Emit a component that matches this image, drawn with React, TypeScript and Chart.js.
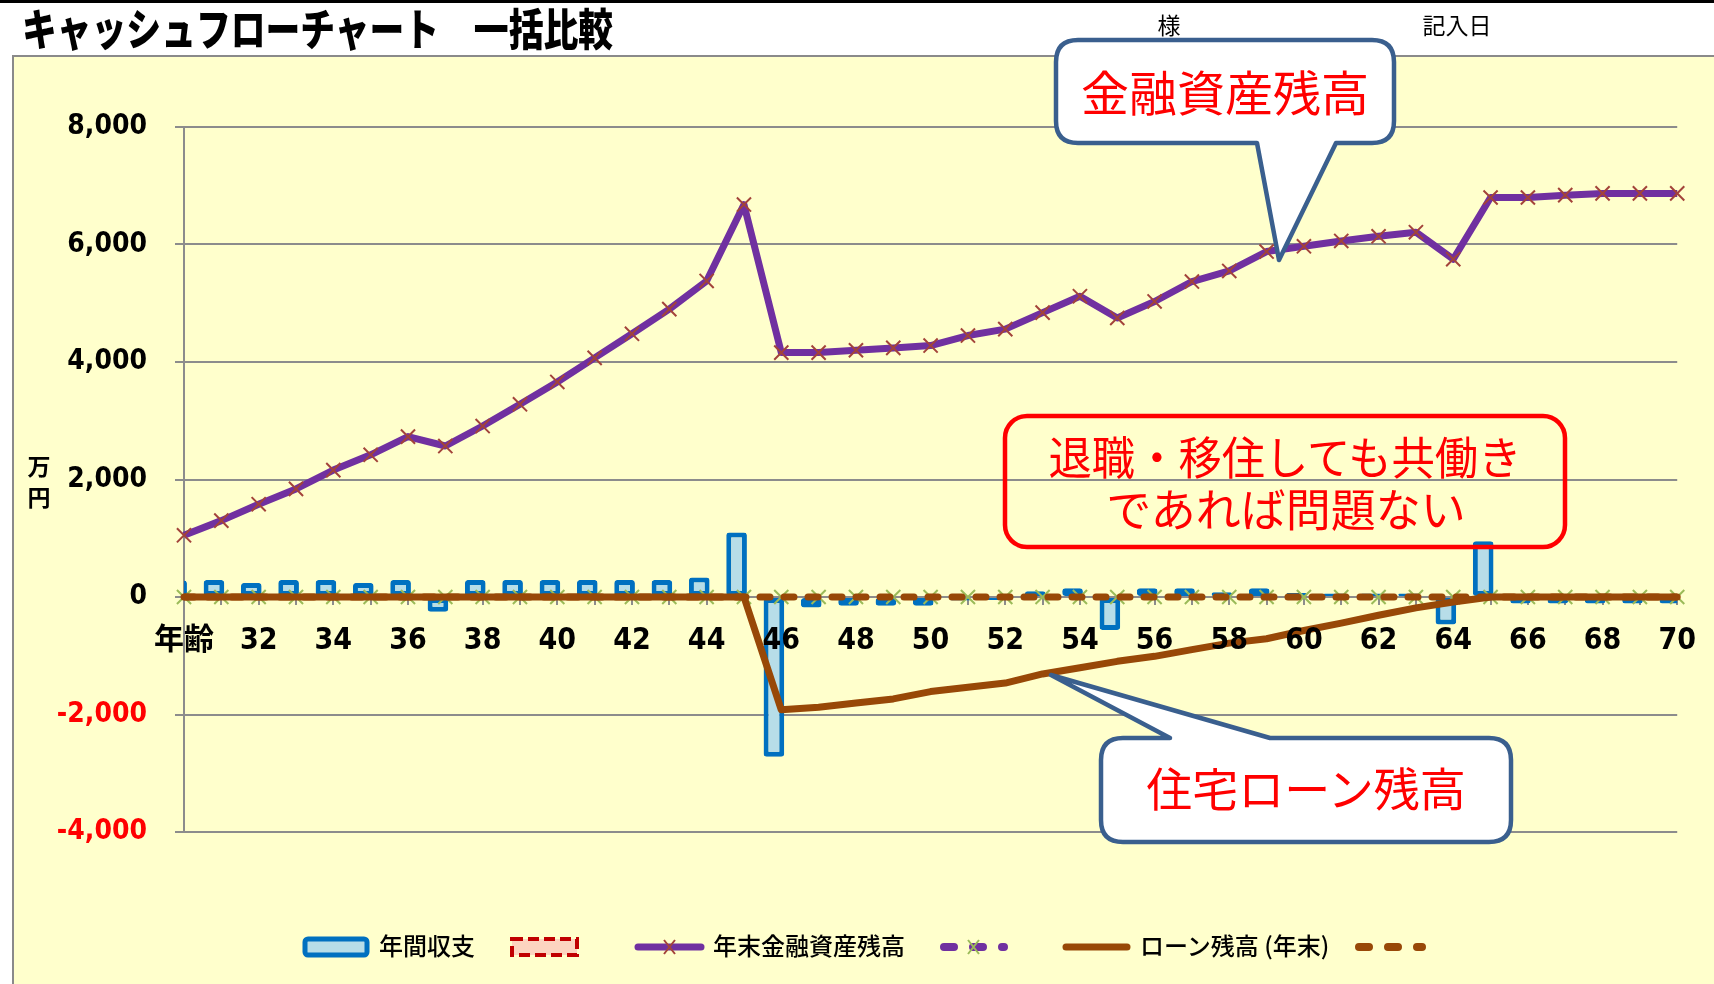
import React, { useEffect, useRef } from "react";
import { Chart, registerables } from "chart.js";

Chart.register(...registerables);

// ---- data ----
const ages = ["30","31","32","33","34","35","36","37","38","39","40","41","42","43","44","45","46","47","48","49","50","51","52","53","54","55","56","57","58","59","60","61","62","63","64","65","66","67","68","69","70"];
const tickLabels = ["年齢","","32","","34","","36","","38","","40","","42","","44","","46","","48","","50","","52","","54","","56","","58","","60","","62","","64","","66","","68","","70"];
const annualBalance = [280,290,240,290,290,240,290,-250,290,290,290,290,290,290,330,1100,-2720,-180,-150,-150,-150,-60,-50,100,150,-560,150,150,80,150,70,60,60,60,-470,950,-110,-110,-110,-110,-110];
const annualBalanceCompare = [0,0,0,0,0,0,0,0,0,0,0,0,0,0,0,0,0,0,0,0,0,0,0,0,0,0,0,0,0,0,0,0,0,0,0,0,0,0,0,0,0];
const assets = [1050,1300,1580,1840,2160,2420,2730,2570,2910,3280,3660,4070,4480,4900,5380,6680,4160,4160,4200,4240,4280,4450,4560,4840,5120,4750,5030,5370,5550,5880,5970,6060,6140,6210,5750,6800,6800,6840,6870,6870,6870];
const assetsCompare = [0,0,0,0,0,0,0,0,0,0,0,0,0,0,0,0,0,0,0,0,0,0,0,0,0,0,0,0,0,0,0,0,0,0,0,0,0,0,0,0,0];
const loan = [0,0,0,0,0,0,0,0,0,0,0,0,0,0,0,0,-1920,-1875,-1805,-1735,-1610,-1535,-1465,-1310,-1205,-1095,-1010,-895,-785,-710,-570,-445,-310,-185,-85,0,0,0,0,0,0];
const loanCompare = [0,0,0,0,0,0,0,0,0,0,0,0,0,0,0,0,0,0,0,0,0,0,0,0,0,0,0,0,0,0,0,0,0,0,0,0,0,0,0,0,0];
const yMin = -4000;
const yMax = 8000;
const yStep = 2000;

const W = 1714;
const H = 984;
const CJK = "'Noto Sans CJK JP', sans-serif";
const NARROW = "'Liberation Sans Narrow', 'DejaVu Sans Condensed', 'Noto Sans CJK JP', sans-serif";

export default function App() {
  const ref = useRef<HTMLCanvasElement | null>(null);

  useEffect(() => {
    const canvas = ref.current;
    if (!canvas) return;
    const chart = new Chart(canvas, {
      type: "bar",
      data: {
        labels: ages,
        datasets: [
          {
            type: "line",
            label: "年末金融資産残高",
            data: assets,
            borderColor: "#7030A0",
            borderWidth: 7,
            borderJoinStyle: "round",
            pointStyle: "crossRot",
            pointRadius: 10,
            pointBorderColor: "#A3433A",
            pointBorderWidth: 2,
            pointBackgroundColor: "rgba(0,0,0,0)",
            tension: 0,
            clip: false,
            order: 0,
          } as any,
          {
            type: "line",
            label: "ローン残高 (年末)",
            data: loan,
            borderColor: "#984807",
            borderWidth: 7,
            borderJoinStyle: "round",
            pointRadius: 0,
            tension: 0,
            clip: false,
            order: 1,
          } as any,
          {
            type: "line",
            label: "ローン残高 比較",
            data: loanCompare,
            borderColor: "#984807",
            borderWidth: 7,
            borderDash: [10, 14],
            borderCapStyle: "round",
            pointRadius: 0,
            tension: 0,
            clip: false,
            order: 2,
          } as any,
          {
            type: "line",
            label: "年末金融資産残高 比較",
            data: assetsCompare,
            borderColor: "#7030A0",
            showLine: false,
            pointStyle: "crossRot",
            pointRadius: 10,
            pointBorderColor: "#9BBB59",
            pointBorderWidth: 2,
            pointBackgroundColor: "rgba(0,0,0,0)",
            clip: false,
            order: 3,
          } as any,
          {
            type: "bar",
            label: "年間収支",
            data: annualBalance,
            backgroundColor: "#B7DDE8",
            borderColor: "#0070C0",
            borderWidth: 5,
            borderSkipped: false,
            borderRadius: 3,
            categoryPercentage: 0.79,
            barPercentage: 1.4,
            clip: 0,
            order: 4,
          } as any,
          {
            type: "bar",
            label: "年間収支 比較",
            data: annualBalanceCompare,
            backgroundColor: "#FCD5C0",
            borderColor: "#C00000",
            borderWidth: 0,
            categoryPercentage: 0.79,
            barPercentage: 1.4,
            clip: 0,
            order: 5,
          } as any,
        ],
      },
      options: {
        animation: false,
        responsive: false,
        devicePixelRatio: 1,
        layout: { padding: { left: 34, right: 34, top: 127, bottom: 152 } },
        plugins: { legend: { display: false }, tooltip: { enabled: false } },
        scales: {
          x: {
            type: "category",
            position: { y: 0 } as any,
            offset: false,
            grid: {
              display: true,
              drawOnChartArea: false,
              drawTicks: true,
              tickLength: 8,
              color: "#8c8c8c",
              lineWidth: 2,
              offset: false,
            },
            border: { display: false },
            ticks: {
              z: 1,
              autoSkip: false,
              maxRotation: 0,
              minRotation: 0,
              padding: 18,
              color: "#000000",
              font: { family: NARROW, size: 30, weight: "bold" },
              callback: (_v: any, i: number) => tickLabels[i],
            },
          },
          y: {
            min: yMin,
            max: yMax,
            afterFit: (s: any) => {
              s.width = 150;
            },
            grid: { color: "#8c8c8c", lineWidth: 2, tickLength: 9, drawTicks: true },
            border: { display: true, color: "#8c8c8c", width: 2 },
            ticks: {
              stepSize: yStep,
              padding: 28,
              color: (c: any) => (c.tick && c.tick.value < 0 ? "#FF0000" : "#000000"),
              font: { family: NARROW, size: 28, weight: "bold" },
              callback: (v: any) => Number(v).toLocaleString("en-US"),
            },
          },
        },
      } as any,
    });
    return () => chart.destroy();
  }, []);

  const dots = "10 19";
  return (
    <div style={{ position: "absolute", left: 0, top: 0, width: W, height: H, background: "#ffffff", overflow: "hidden" }}>
      <div style={{ position: "absolute", left: 0, top: 0, width: W, height: 3, background: "#000" }} />
      <div
        style={{
          position: "absolute",
          left: 12,
          top: 55,
          width: W - 12,
          height: H - 55,
          background: "#FFFFCC",
          borderLeft: "2px solid #8a8a8a",
          borderTop: "2px solid #8a8a8a",
          boxSizing: "border-box",
        }}
      />
      <canvas ref={ref} width={W} height={H} style={{ position: "absolute", left: 0, top: 0, width: W, height: H }} />
      <svg width={W} height={H} style={{ position: "absolute", left: 0, top: 0 }} fontFamily={CJK}>
        {/* header */}
        <text x={22} y={27} fontSize={44} fontWeight={900} dominantBaseline="central" textLength={591} lengthAdjust="spacingAndGlyphs" fill="#000">
          キャッシュフローチャート　一括比較
        </text>
        <text x={1169} y={24} fontSize={23} textAnchor="middle" dominantBaseline="central" fill="#000">様</text>
        <text x={1457} y={24} fontSize={23} textAnchor="middle" dominantBaseline="central" fill="#000">記入日</text>
        {/* y axis unit */}
        <text x={39} y={465} fontSize={23} fontWeight={700} textAnchor="middle" dominantBaseline="central" fill="#000">万</text>
        <text x={39} y={496} fontSize={23} fontWeight={700} textAnchor="middle" dominantBaseline="central" fill="#000">円</text>

        {/* callout 1 */}
        <path
          d="M 1078 40 H 1372 Q 1394 40 1394 62 V 121 Q 1394 143 1372 143 H 1336 L 1279 260 L 1257 143 H 1078 Q 1056 143 1056 121 V 62 Q 1056 40 1078 40 Z"
          fill="#ffffff"
          stroke="#3A5F8E"
          strokeWidth={4.5}
          strokeLinejoin="round"
        />
        <text x={1225} y={90} fontSize={48} textAnchor="middle" dominantBaseline="central" fill="#FF0000">金融資産残高</text>

        {/* callout 2 */}
        <rect x={1005} y={416} width={560} height={131} rx={22} ry={22} fill="none" stroke="#FF0000" strokeWidth={4.5} />
        <text x={1285} y={455} fontSize={45} textAnchor="middle" dominantBaseline="central" textLength={473} lengthAdjust="spacingAndGlyphs" fill="#FF0000">退職・移住しても共働き</text>
        <text x={1286} y={507} fontSize={45} textAnchor="middle" dominantBaseline="central" fill="#FF0000">であれば問題ない</text>

        {/* callout 3 */}
        <path
          d="M 1123 738 H 1170 L 1051 675 L 1270 738 H 1489 Q 1511 738 1511 760 V 820 Q 1511 842 1489 842 H 1123 Q 1101 842 1101 820 V 760 Q 1101 738 1123 738 Z"
          fill="#ffffff"
          stroke="#3A5F8E"
          strokeWidth={4.5}
          strokeLinejoin="round"
        />
        <text x={1306} y={786} fontSize={46} textAnchor="middle" dominantBaseline="central" fill="#FF0000">住宅ローン残高</text>

        {/* legend */}
        <rect x={305} y={939} width={62} height={16} rx={3} fill="#B7DDE8" stroke="#0070C0" strokeWidth={5} />
        <text x={379} y={944} fontSize={24} fontWeight={500} dominantBaseline="central" fill="#000">年間収支</text>
        <rect x={512} y={939} width={65} height={16} fill="#FCD5C0" stroke="#C00000" strokeWidth={4} strokeDasharray="11 5" />
        <line x1={638} y1={947} x2={701} y2={947} stroke="#7030A0" strokeWidth={7} strokeLinecap="round" />
        <path d="M 664 940 L 675 954 M 675 940 L 664 954" stroke="#A3433A" strokeWidth={2} />
        <text x={713} y={944} fontSize={24} fontWeight={500} dominantBaseline="central" fill="#000">年末金融資産残高</text>
        <line x1={944} y1={947} x2={1004} y2={947} stroke="#7030A0" strokeWidth={8} strokeLinecap="round" strokeDasharray={dots} />
        <path d="M 968 940 L 979 954 M 979 940 L 968 954" stroke="#9BBB59" strokeWidth={2} />
        <line x1={1066} y1={947} x2={1127} y2={947} stroke="#984807" strokeWidth={7} strokeLinecap="round" />
        <text x={1140} y={944} fontSize={24} fontWeight={500} dominantBaseline="central" fill="#000">ローン残高 (年末)</text>
        <line x1={1359} y1={947} x2={1422} y2={947} stroke="#984807" strokeWidth={8} strokeLinecap="round" strokeDasharray={dots} />
      </svg>
    </div>
  );
}
